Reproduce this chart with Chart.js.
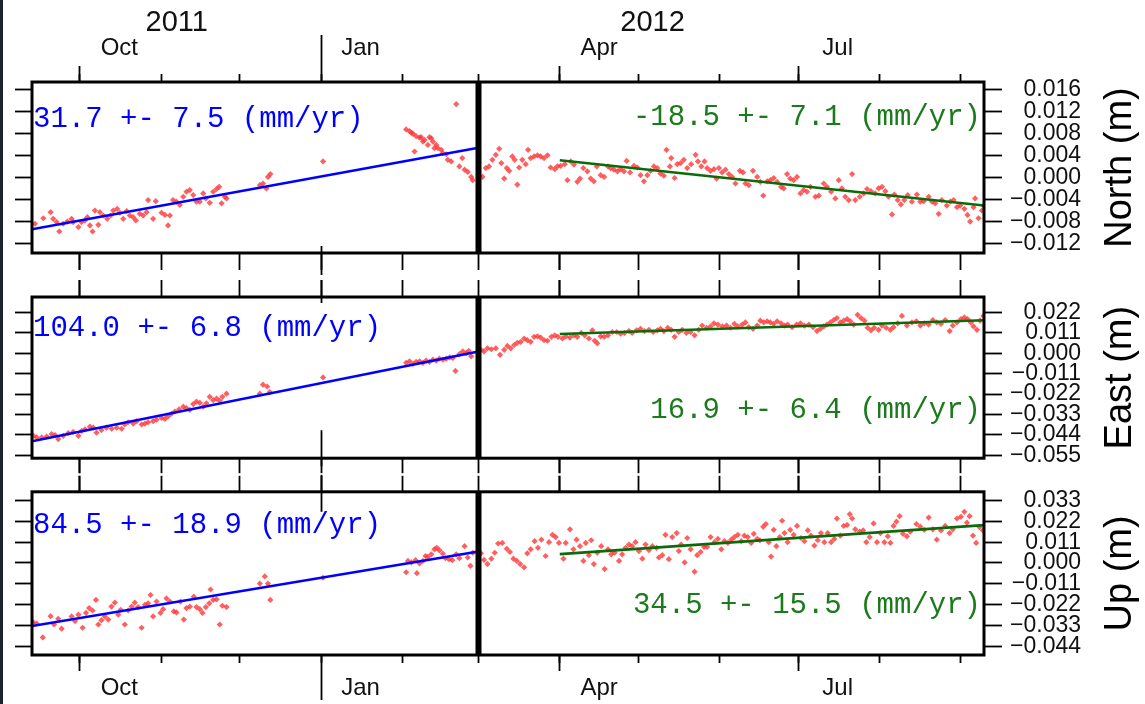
<!DOCTYPE html>
<html>
<head>
<meta charset="utf-8">
<script src="https://cdn.jsdelivr.net/npm/chart.js@4.4.1/dist/chart.umd.min.js"></script>
<style>
  html, body { margin: 0; padding: 0; background: #fff; }
  body { width: 1145px; height: 704px; position: relative; overflow: hidden; }
  .panel { position: absolute; left: 0; width: 1145px; }
  .panel canvas { display: block; }
  #edge { position: absolute; left: 0; top: 0; width: 3px; height: 704px; background: #1d2230; }
</style>
</head>
<body>
<div id="edge"></div>
<div class="panel" style="top:0px"><canvas id="chart-north" width="1145" height="300"></canvas></div>
<div class="panel" style="top:270px"><canvas id="chart-east" width="1145" height="210"></canvas></div>
<div class="panel" style="top:470px"><canvas id="chart-up" width="1145" height="234"></canvas></div>
<script>
// time axis: days counted from 2011-09-01
const xMin = 11.7, xMax = 374.8;
const eventDay = 182;          // 2012-03-01, vertical marker
const postFitStartDay = 213;   // 2012-04-01
const monthStarts = [30, 61, 91, 122, 153, 182, 213, 243, 274, 304, 335, 366];
const quarterStarts = [30, 213, 304];
const yearStarts = [122];
const monthLabelDays = [45, 137, 228, 319];
const monthLabels = ['Oct', 'Jan', 'Apr', 'Jul'];
const yearLabelDays = [66.9, 248.4];
const yearLabels = ['2011', '2012'];

// y tick values (m)
const northTicks = [-0.012, -0.008, -0.004, 0, 0.004, 0.008, 0.012, 0.016];
const eastTicks = [-0.055, -0.044, -0.033, -0.022, -0.011, 0, 0.011, 0.022];
const upTicks = [-0.044, -0.033, -0.022, -0.011, 0, 0.011, 0.022, 0.033];

// fitted velocities, mm/yr  [North, East, Up]
const preRates = [31.7, 104.0, 84.5];
const preErrs = [7.5, 6.8, 18.9];
const postRates = [-18.5, 16.9, 34.5];
const postErrs = [7.1, 6.4, 15.5];
// fit line value (mm) at its first day
const preFitStart = [-9.4, -47.5, -33.3];
const postFitStart = [3.1, 10.4, 4.7];

// daily positions: [day, mm]
const north = [
  [12.8,-8.4],[16.0,-7.4],[18.8,-6.3],[19.8,-7.5],[21.1,-8.1],[22.1,-9.8],[23.6,-8.4],[25.2,-8.0],[26.8,-7.5],[27.4,-8.1],
  [29.4,-9.0],[30.6,-8.1],[31.9,-7.8],[32.8,-7.2],[33.8,-8.7],[34.8,-9.8],[35.7,-6.0],[37.0,-8.6],[37.6,-6.3],[38.9,-6.9],
  [40.4,-7.5],[41.7,-6.9],[42.7,-6.0],[44.2,-5.7],[45.2,-6.4],[46.5,-7.5],[47.8,-6.1],[49.0,-6.9],[50.3,-7.2],[51.3,-7.8],
  [52.8,-6.6],[54.1,-6.9],[55.4,-6.3],[56.0,-4.1],[57.9,-7.5],[58.9,-4.3],[61.1,-6.4],[62.4,-6.8],[63.6,-8.7],[64.3,-6.9],
  [65.5,-4.1],[66.8,-4.4],[68.1,-5.0],[69.4,-3.5],[70.6,-2.6],[71.9,-2.3],[73.2,-3.2],[74.4,-4.4],[75.7,-4.4],[77.0,-2.9],
  [78.0,-3.8],[79.5,-4.6],[80.8,-2.6],[82.1,-2.1],[83.1,-1.7],[84.0,-4.7],[85.2,-3.5],[85.9,-3.8],
  [98.6,-1.4],[99.8,-1.1],[101.1,-2.0],[101.7,0.1],[102.6,0.6],
  [122.7,2.9],
  [154.4,8.7],[155.7,8.4],[156.4,8.1],[157.0,7.9],[157.6,4.7],[158.2,7.5],[159.5,7.2],[160.1,7.3],[160.8,6.5],[161.4,6.8],
  [162.7,5.9],[163.3,7.3],[164.0,7.1],[164.6,6.5],[165.2,5.3],[165.9,5.9],[166.5,5.3],[167.8,5.0],[168.4,4.4],[169.7,4.2],
  [170.3,3.2],[171.6,2.9],[173.5,13.3],[174.7,2.0],[175.8,3.5],[176.7,1.4],[177.9,1.0],[179.2,0.1],[179.8,-0.5],
  [183.5,0.1],[184.8,1.7],[186.0,2.0],[187.3,3.2],[188.6,4.1],[189.9,5.2],[190.7,2.6],[191.8,-0.2],[192.8,1.7],[193.7,1.2],
  [194.9,3.8],[195.8,3.2],[196.8,-1.3],[197.5,1.8],[198.7,3.2],[200.0,2.4],[200.9,5.0],[201.9,3.5],[203.2,3.8],[204.5,4.0],
  [205.7,3.8],[207.0,3.5],[208.3,4.0],[209.5,1.8],[211.1,1.5],[212.1,2.0],[213.3,2.1],[214.9,2.4],[215.9,-0.5],[217.2,2.9],
  [218.4,2.3],[219.7,-0.8],[220.7,-0.2],[222.0,1.7],[223.5,1.1],[224.8,-0.2],[226.0,-0.7],[227.1,2.0],[228.6,0.4],[229.9,0.1],
  [231.4,2.0],[232.4,1.7],[233.7,1.4],[235.0,1.1],[236.2,1.5],[237.5,1.1],[238.5,3.0],[239.8,0.9],[241.3,2.1],[242.6,1.8],
  [243.8,0.4],[245.1,-0.7],[246.4,0.4],[247.6,1.2],[248.9,2.0],[250.2,1.7],[251.4,0.7],[252.7,0.3],[253.7,5.0],[255.0,2.0],
  [255.5,3.5],[256.8,-0.1],[257.8,2.4],[259.1,2.6],[260.3,3.2],[261.6,1.7],[263.1,2.4],[264.8,4.1],[265.7,2.9],[267.0,2.0],
  [268.2,2.9],[269.2,1.7],[270.5,1.2],[271.8,1.5],[272.8,-0.2],[273.7,1.7],[274.9,0.9],[276.2,1.4],[277.5,0.6],[278.7,0.1],
  [280.0,-1.1],[281.7,1.2],[282.9,0.9],[283.8,-1.1],[285.1,-1.4],[286.7,1.2],[288.3,0.1],[289.5,-0.8],[290.6,-3.3],[292.1,-0.7],
  [293.3,-0.5],[294.6,-0.1],[295.9,-0.8],[297.4,-1.7],[298.4,-2.0],[299.7,0.6],[300.9,-0.2],[302.2,-0.5],[303.5,0.1],[304.8,-2.9],
  [306.0,-2.3],[307.3,-2.6],[308.6,-1.7],[310.5,-3.5],[311.8,-3.3],[313.7,-1.1],[314.9,-1.7],[316.5,-2.6],[318.1,-3.8],[319.4,-0.5],
  [320.6,-2.0],[321.9,-3.5],[323.2,-4.1],[324.5,0.6],[325.7,-4.1],[327.4,-3.5],[328.9,-2.9],[330.2,-2.1],[331.7,-2.5],[333.3,-2.9],
  [334.6,-2.0],[335.9,-1.7],[337.2,-2.5],[338.4,-3.5],[339.7,-6.7],[340.6,-3.1],[341.9,-4.1],[343.1,-4.9],[344.4,-4.1],[345.7,-3.2],
  [347.3,-4.4],[349.2,-3.1],[350.5,-4.4],[351.8,-4.3],[353.7,-3.5],[355.0,-4.4],[356.2,-4.7],[357.5,-6.6],[358.7,-4.1],[360.6,-5.1],
  [361.9,-4.4],[363.2,-4.1],[364.5,-5.4],[365.7,-5.1],[367.3,-5.7],[368.5,-6.8],[369.5,-8.0],[370.8,-5.4],[371.4,-3.8],[372.7,-7.4],
  [374.0,-6.0],[374.6,-5.1]
];

const east = [
  [12.2,-44.5],[13.5,-45.4],[15.4,-45.4],[17.3,-44.9],[19.2,-43.6],[20.5,-44.2],[21.7,-46.3],[23.6,-44.5],[25.5,-43.1],[27.4,-42.4],
  [29.4,-44.5],[30.6,-41.9],[31.9,-41.0],[33.8,-39.6],[35.1,-40.1],[36.3,-42.8],[38.2,-41.4],[40.1,-40.1],[42.1,-40.7],[44.0,-40.1],
  [45.9,-40.7],[47.1,-38.4],[48.4,-37.2],[50.3,-37.9],[51.6,-36.6],[53.5,-38.4],[54.8,-37.9],[56.0,-37.2],[57.9,-36.6],[59.2,-35.8],
  [61.1,-34.9],[62.4,-35.4],[63.6,-34.0],[64.9,-32.6],[66.2,-31.4],[67.8,-30.2],[69.4,-28.8],[70.6,-29.6],[71.9,-30.5],[73.2,-27.4],
  [74.4,-26.1],[75.7,-26.7],[77.0,-28.8],[78.2,-27.0],[79.5,-23.5],[80.8,-25.3],[82.1,-24.4],[83.3,-25.6],[84.3,-23.5],[85.9,-21.8],
  [98.6,-21.8],[99.8,-16.9],[101.4,-17.9],[102.4,-20.9],
  [122.7,-13.0],
  [154.4,-5.1],[155.7,-4.3],[157.0,-5.7],[158.2,-4.6],[159.5,-4.3],[160.8,-5.1],[162.0,-3.9],[163.3,-4.6],[164.6,-3.4],[165.9,-3.9],
  [167.1,-2.9],[168.4,-3.4],[169.7,-2.9],[171.0,-2.2],[172.2,-2.5],[173.2,-9.5],[174.7,-0.4],[176.0,1.0],[177.3,0.1],[178.3,1.3],
  [179.2,-1.6],
  [182.9,1.9],[184.1,1.0],[185.4,2.7],[186.9,2.2],[188.6,2.7],[190.2,-0.8],[191.8,1.9],[193.0,4.0],[194.3,2.7],[195.6,4.5],
  [196.8,5.7],[198.1,6.2],[199.4,8.0],[200.6,7.1],[201.9,6.2],[203.2,8.9],[204.5,9.2],[205.7,8.5],[207.0,7.1],[208.3,6.8],
  [209.8,8.9],[211.1,9.7],[212.3,8.9],[214.0,8.0],[215.3,9.2],[216.9,8.5],[218.4,9.7],[219.7,8.9],[221.2,11.0],[222.5,9.7],
  [224.1,8.0],[225.4,12.4],[226.3,6.8],[227.3,5.4],[228.6,9.2],[229.9,8.9],[231.4,9.7],[233.0,11.5],[234.7,11.5],[236.2,10.6],
  [237.7,11.0],[239.4,12.0],[240.6,11.0],[242.3,12.4],[243.8,13.2],[245.3,12.0],[247.0,12.7],[248.6,11.5],[250.2,12.4],[251.4,13.2],
  [252.7,12.0],[254.2,13.8],[255.5,12.7],[256.8,8.9],[258.4,11.5],[259.7,12.7],[261.3,11.0],[262.9,11.5],[264.4,9.7],[266.0,12.7],
  [267.3,15.0],[269.0,13.8],[270.5,14.5],[271.8,16.2],[273.3,15.5],[275.0,14.5],[276.6,15.0],[278.1,13.8],[279.6,15.9],[280.9,14.5],
  [282.6,15.5],[283.8,16.7],[285.1,14.1],[286.7,13.2],[288.3,15.0],[289.5,17.6],[290.8,16.7],[292.1,17.3],[293.3,16.7],[294.6,15.9],
  [295.9,17.3],[297.4,16.2],[298.7,15.0],[299.9,15.5],[301.6,14.1],[303.3,15.5],[304.8,16.2],[306.3,15.0],[308.0,15.5],[309.6,14.1],
  [311.1,12.0],[312.4,13.2],[313.7,14.5],[314.9,15.5],[316.2,16.7],[317.5,18.0],[318.7,19.0],[320.0,16.7],[321.3,17.6],[322.6,18.5],
  [323.8,17.3],[325.1,15.5],[326.6,20.8],[327.9,19.0],[329.2,17.6],[330.4,13.8],[331.7,12.4],[332.9,13.8],[334.6,12.7],[335.9,15.0],
  [337.5,13.8],[339.1,12.7],[340.3,14.1],[341.9,16.2],[343.5,20.2],[345.4,15.0],[347.3,16.7],[349.0,17.3],[350.5,15.0],[352.0,16.2],
  [353.7,15.5],[355.3,18.0],[356.8,16.7],[358.4,15.9],[360.0,18.0],[361.7,12.0],[362.9,15.0],[364.5,16.7],[366.0,18.5],[367.3,19.4],
  [368.5,18.5],[369.8,16.7],[370.8,14.5],[372.1,12.7],[373.3,17.6],[374.6,20.2]
];

const up = [
  [12.2,-31.3],[13.5,-32.0],[15.8,-39.3],[18.8,-28.1],[20.1,-32.5],[21.7,-29.5],[23.0,-34.7],[26.8,-28.2],[28.1,-30.7],[29.4,-27.3],
  [31.0,-34.2],[32.3,-26.4],[33.5,-23.8],[34.8,-25.1],[36.1,-19.5],[37.0,-32.5],[38.2,-30.2],[39.5,-28.2],[40.8,-29.9],[42.0,-23.0],
  [43.3,-20.9],[44.6,-27.3],[45.5,-24.7],[47.1,-32.5],[48.4,-25.1],[49.7,-23.0],[50.9,-20.9],[52.2,-23.3],[53.5,-34.2],[54.8,-22.1],
  [56.0,-21.3],[56.9,-16.9],[57.9,-28.2],[59.2,-20.4],[60.7,-26.4],[61.7,-24.4],[63.0,-18.7],[64.3,-20.4],[65.8,-25.6],[66.8,-26.1],
  [68.3,-20.4],[69.6,-29.9],[70.6,-23.8],[71.9,-23.0],[73.4,-17.8],[74.4,-23.3],[75.7,-24.4],[76.7,-26.4],[78.0,-23.3],[79.3,-21.3],
  [79.8,-14.0],[80.8,-19.5],[82.1,-19.2],[83.3,-32.5],[84.3,-22.6],[85.9,-23.3],
  [98.6,-10.9],[100.5,-7.1],[101.7,-10.9],[102.6,-19.5],
  [122.7,-7.8],
  [154.4,-4.9],[155.1,1.1],[156.4,0.3],[158.0,1.5],[158.5,-5.4],[159.5,-0.2],[160.8,1.1],[161.8,3.7],[162.7,3.2],[164.0,4.6],
  [165.2,7.2],[166.1,8.0],[167.1,6.7],[168.4,4.9],[169.4,2.5],[170.7,2.0],[172.0,1.5],[173.5,4.6],[174.7,2.5],[176.7,8.9],
  [177.9,2.9],[178.9,-1.5],[179.8,5.4],
  [182.9,5.1],[184.1,1.6],[185.4,-0.6],[186.9,2.3],[188.2,5.4],[189.5,10.3],[191.1,10.6],[192.8,7.5],[194.0,5.8],[195.3,2.3],
  [196.6,1.1],[197.9,-0.6],[199.4,-2.3],[200.6,5.1],[201.9,7.2],[203.4,11.5],[204.7,8.0],[206.0,12.3],[207.6,3.7],[208.9,11.0],
  [210.2,14.9],[211.4,13.7],[212.7,10.6],[214.4,2.3],[215.3,10.6],[216.9,17.8],[218.2,7.2],[219.4,12.3],[220.7,8.9],[222.0,1.1],
  [222.9,10.6],[224.1,4.1],[225.0,12.0],[226.0,-0.6],[227.3,5.4],[228.8,8.9],[230.1,-3.2],[231.4,7.2],[232.6,4.6],[233.9,5.4],
  [235.6,1.1],[236.8,4.6],[238.1,8.0],[239.4,9.7],[240.6,8.9],[241.9,11.0],[243.2,6.3],[244.5,2.3],[245.7,9.7],[247.0,6.8],
  [248.3,8.9],[249.9,8.0],[250.8,2.9],[252.1,4.1],[253.3,14.9],[254.6,2.0],[255.9,13.7],[257.6,15.8],[258.4,6.3],[259.3,9.7],
  [260.6,0.3],[261.6,13.2],[262.9,7.2],[264.4,-4.6],[265.4,4.1],[266.7,5.8],[268.0,8.5],[269.2,8.5],[270.5,13.7],[272.0,11.0],
  [273.3,12.7],[274.6,7.2],[275.8,11.5],[277.1,10.6],[278.4,12.3],[279.6,13.7],[280.9,14.9],[282.2,11.5],[283.4,14.4],[284.7,13.7],
  [286.0,10.6],[287.0,15.4],[288.3,12.7],[289.3,12.0],[290.6,19.2],[291.6,20.6],[292.7,11.0],[293.6,3.4],[294.6,17.5],[295.6,8.9],
  [296.9,13.7],[297.8,22.3],[298.7,15.8],[299.9,11.0],[300.9,17.5],[302.2,14.9],[303.5,19.6],[305.0,13.2],[306.3,11.5],[307.6,17.2],
  [308.8,14.4],[310.1,9.2],[311.4,12.0],[312.6,15.8],[313.9,11.0],[315.2,15.8],[316.5,11.0],[317.7,12.7],[318.7,23.5],[320.0,14.4],
  [321.3,19.6],[322.6,20.1],[323.6,25.8],[324.5,23.5],[325.7,17.8],[327.4,16.6],[328.7,17.2],[329.9,11.0],[331.2,13.7],[332.7,20.9],
  [334.0,11.0],[335.3,15.8],[336.8,11.0],[338.1,14.1],[339.1,10.6],[340.3,19.6],[341.4,21.8],[342.6,24.7],[343.9,15.4],[345.4,14.1],
  [346.7,16.6],[349.0,20.6],[350.5,19.2],[352.0,17.5],[353.7,24.0],[355.3,17.8],[356.8,12.3],[358.4,17.2],[360.0,19.6],[361.7,15.8],
  [362.9,17.8],[364.5,23.5],[366.0,24.4],[367.3,27.0],[368.3,21.3],[369.3,24.7],[370.6,14.4],[371.8,10.6],[373.1,18.9],[374.4,17.2]
];

const sansFont = "'Liberation Sans', Arial, Helvetica, sans-serif";
const monoFont = "'Liberation Mono', 'Courier New', monospace";

// minus sign like the axis labels use
const fmtTick = v => (v < -1e-9 ? '\u2212' : '') + Math.abs(v).toFixed(3);
const rateText = (r, e) => r.toFixed(1) + ' +- ' + e.toFixed(1) + ' (mm/yr)';

// text inside each panel, frame and the rotated component title
const panelText = {
  id: 'panelText',
  afterDatasetsDraw(chart, args, o) {
    const a = chart.chartArea;
    const c = chart.ctx;
    c.save();
    c.beginPath();
    c.rect(a.left, a.top, a.width, a.height);
    c.clip();
    c.font = '29px ' + monoFont;
    c.textBaseline = 'middle';
    c.fillStyle = '#0000ff';
    c.textAlign = 'left';
    c.fillText(o.preText, a.left + 1, a.top + o.preY);
    c.fillStyle = '#1b7a1b';
    c.textAlign = 'right';
    c.fillText(o.postText, a.right - 3, o.postY > 0 ? a.top + o.postY : a.bottom + o.postY);
    c.restore();

    c.save();
    c.lineWidth = 3;
    c.strokeStyle = '#000';
    c.strokeRect(a.left, a.top, a.width, a.height);
    c.restore();

    c.save();
    c.translate(1121, (a.top + a.bottom) / 2);
    c.rotate(-Math.PI / 2);
    c.font = '38px ' + sansFont;
    c.fillStyle = '#000';
    c.textAlign = 'center';
    c.textBaseline = 'middle';
    c.fillText(o.title, 0, 0);
    c.restore();
  }
};

// x axis that only draws tick marks; height 0 so several overlay on one edge
function tickAxis(pos, values, len, weight, height) {
  return {
    type: 'linear', position: pos, min: xMin, max: xMax, weight: weight,
    afterBuildTicks: s => { s.ticks = values.map(v => ({ value: v })); },
    afterFit: s => { s.height = height || 0; },
    ticks: { display: false },
    grid: { drawOnChartArea: false, drawTicks: true, tickLength: len, tickWidth: 1.8, tickColor: '#000' },
    border: { display: false }
  };
}

// x axis that only draws labels (labels are clipped to the axis box, so it needs a height)
function labelAxis(pos, values, labels, size, pad, weight, height) {
  return {
    type: 'linear', position: pos, min: xMin, max: xMax, weight: weight,
    afterBuildTicks: s => { s.ticks = values.map(v => ({ value: v })); },
    afterFit: s => { s.height = height || 0; },
    ticks: {
      autoSkip: false, maxRotation: 0, minRotation: 0, padding: pad, color: '#111',
      font: { family: sansFont, size: size },
      callback: (v, i) => labels[i]
    },
    grid: { display: false, drawTicks: false, tickLength: 0 },
    border: { display: false }
  };
}

function makePanel(canvasId, k, p) {
  const pts = p.data.map(d => ({ x: d[0], y: d[1] / 1000 }));
  const preEnd = preFitStart[k] + preRates[k] * (eventDay - xMin) / 365.25;
  const postEnd = postFitStart[k] + postRates[k] * (xMax - postFitStartDay) / 365.25;

  const scales = {
    y: {
      position: 'right', min: p.yMin, max: p.yMax,
      afterBuildTicks: s => { s.ticks = p.ticks.map(v => ({ value: v })); },
      afterFit: s => { s.width = 97; },
      ticks: {
        autoSkip: false, crossAlign: 'far', padding: 8, color: '#111',
        font: { family: sansFont, size: 23 },
        callback: v => fmtTick(v)
      },
      grid: { drawOnChartArea: false, tickLength: 18, tickWidth: 1.8, tickColor: '#000' },
      border: { display: false }
    },
    yl: {
      position: 'left', min: p.yMin, max: p.yMax,
      afterBuildTicks: s => { s.ticks = p.ticks.map(v => ({ value: v })); },
      afterFit: s => { s.width = 32; },
      ticks: { display: false },
      grid: { drawOnChartArea: false, tickLength: 17, tickWidth: 1.8, tickColor: '#000' },
      border: { display: false }
    },
    // bottom edge
    x: tickAxis('bottom', monthStarts, p.bMonth, 0),
    xbq: tickAxis('bottom', quarterStarts, p.bQuarter, 1),
    xbyi: tickAxis('bottom', yearStarts, -p.bYearIn, 2),
    xby: tickAxis('bottom', yearStarts, p.bYear, 3, p.labelsBottom ? 0 : p.bottomMargin),
    // top edge
    xt: tickAxis('top', monthStarts, p.tMonth, 0),
    xtq: tickAxis('top', quarterStarts, p.tQuarter, 1),
    xtyi: tickAxis('top', yearStarts, -p.tYearIn, 2),
    xty: tickAxis('top', yearStarts, p.tYear, 3, p.labelsTop ? 0 : p.topMargin)
  };
  if (p.labelsTop) {
    scales.xtl = labelAxis('top', monthLabelDays, monthLabels, 24, 19, 4, 44);
    scales.xtyr = labelAxis('top', yearLabelDays, yearLabels, 29, -2, 5, p.topMargin - 44);
  }
  if (p.labelsBottom) {
    scales.xbl = labelAxis('bottom', monthLabelDays, monthLabels, 24, 19, 4, p.bottomMargin);
  }

  new Chart(document.getElementById(canvasId), {
    type: 'scatter',
    data: {
      datasets: [
        {
          data: [{ x: eventDay, y: p.yMin }, { x: eventDay, y: p.yMax }],
          showLine: true, borderColor: '#000', borderWidth: 6, pointRadius: 0, order: 0
        },
        {
          data: [{ x: xMin, y: preFitStart[k] / 1000 }, { x: eventDay, y: preEnd / 1000 }],
          showLine: true, borderColor: '#0000ff', borderWidth: 2.6, pointRadius: 0, order: 1
        },
        {
          data: [{ x: postFitStartDay, y: postFitStart[k] / 1000 }, { x: xMax, y: postEnd / 1000 }],
          showLine: true, borderColor: '#0b6b0b', borderWidth: 2.6, pointRadius: 0, order: 1
        },
        {
          data: pts, pointStyle: 'rectRot', pointRadius: 3.1, borderWidth: 0,
          backgroundColor: 'rgba(255,50,50,0.78)', order: 2
        }
      ]
    },
    options: {
      responsive: false,
      animation: false,
      layout: { padding: { left: 0, top: 0, bottom: 0, right: 64 } },
      plugins: {
        legend: { display: false },
        tooltip: { enabled: false },
        panelText: {
          title: p.title,
          preText: rateText(preRates[k], preErrs[k]),
          postText: rateText(postRates[k], postErrs[k]),
          preY: p.preY, postY: p.postY
        }
      },
      scales: scales
    },
    plugins: [panelText]
  });
}

makePanel('chart-north', 0, {
  data: north, ticks: northTicks, yMin: -0.0137, yMax: 0.0173, title: 'North (m)',
  topMargin: 82, bottomMargin: 47, labelsTop: true,
  tMonth: 8, tQuarter: 16, tYear: 47, tYearIn: 0,
  bMonth: 17, bQuarter: 17, bYear: 22, bYearIn: 7,
  preY: 37, postY: 35
});
makePanel('chart-east', 1, {
  data: east, ticks: eastTicks, yMin: -0.0566, yMax: 0.0304, title: 'East (m)',
  topMargin: 27, bottomMargin: 17,
  tMonth: 17, tQuarter: 17, tYear: 17, tYearIn: 6,
  bMonth: 15, bQuarter: 15, bYear: 8, bYearIn: 28,
  preY: 31, postY: -48
});
makePanel('chart-up', 2, {
  data: up, ticks: upTicks, yMin: -0.0486, yMax: 0.0376, title: 'Up (m)',
  topMargin: 17, bottomMargin: 49, labelsBottom: true,
  tMonth: 16, tQuarter: 16, tYear: 17, tYearIn: 20,
  bMonth: 8, bQuarter: 16, bYear: 45, bYearIn: 0,
  preY: 34, postY: -50
});
</script>
</body>
</html>
